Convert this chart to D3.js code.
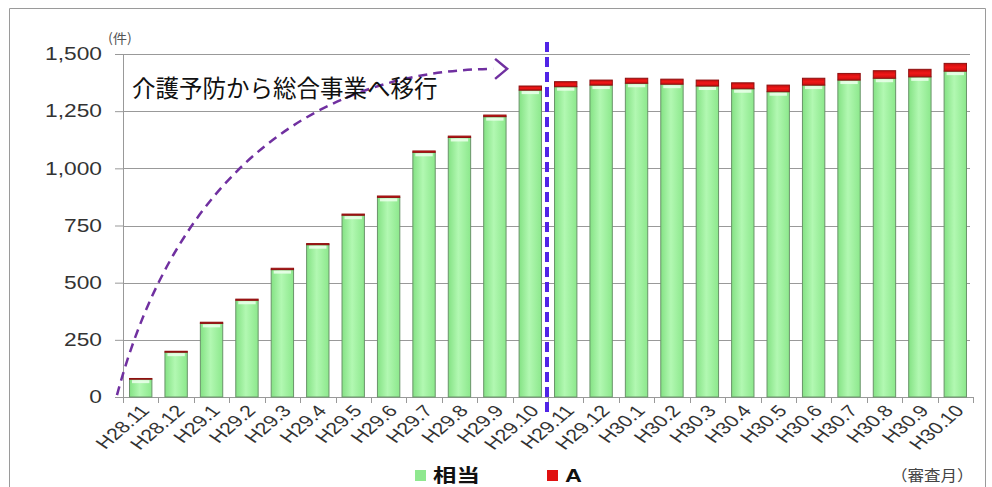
<!DOCTYPE html>
<html>
<head>
<meta charset="utf-8">
<script src="https://cdn.jsdelivr.net/npm/d3@7/dist/d3.min.js"></script>
<style>
body{margin:0;background:#fff;}
svg{display:block;}
text{font-family:"Liberation Sans",Arial,sans-serif;}
.jp{font-family:"Noto Sans CJK JP","Noto Sans",sans-serif;}
</style>
</head>
<body>
<div id="chart"></div>
<script>
// data
var months=["H28.11","H28.12","H29.1","H29.2","H29.3","H29.4","H29.5","H29.6","H29.7","H29.8","H29.9","H29.10",
	"H29.11","H29.12","H30.1","H30.2","H30.3","H30.4","H30.5","H30.6","H30.7","H30.8","H30.9","H30.10"];
var soutou=[78,196,322,423,557,666,795,873,1070,1135,1226,1342,1357,1364,1372,1368,1360,1348,1335,1364,1386,1394,1400,1425];
var seriesA=[3,4,5,5,6,5,5,6,6,6,7,18,22,22,22,22,26,26,29,30,29,33,33,34];
var yTicks=[0,250,500,750,1000,1250,1500];
var seriesNames=["相当","A"];

var width=992, height=487;
var sx=1.3; // the picture is stretched sideways, text follows it
var mLeft=123, mRight=973, mTop=54, mBottom=397;

var svg=d3.select("#chart").append("svg").attr("width",width).attr("height",height);

var defs=svg.append("defs");
var gGreen=defs.append("linearGradient").attr("id","gGreen").attr("x1","0").attr("x2","1").attr("y1","0").attr("y2","0");
gGreen.append("stop").attr("offset","0").attr("stop-color","#84e284");
gGreen.append("stop").attr("offset","0.45").attr("stop-color","#b2f8b2");
gGreen.append("stop").attr("offset","1").attr("stop-color","#8ce88c");
var gRed=defs.append("linearGradient").attr("id","gRed").attr("x1","0").attr("x2","0").attr("y1","0").attr("y2","1");
gRed.append("stop").attr("offset","0").attr("stop-color","#c40d0d");
gRed.append("stop").attr("offset","0.5").attr("stop-color","#f01818");
gRed.append("stop").attr("offset","1").attr("stop-color","#c81010");

// frame round the whole chart
svg.append("path").attr("d","M9.5,487 V8.5 H985.5 V487").attr("fill","none").attr("stroke","#9a9a9a").attr("stroke-width",1);

var x=d3.scaleBand().domain(months).range([mLeft,mRight]).paddingInner(0.34).paddingOuter(0.17);
var y=d3.scaleLinear().domain([0,1500]).range([mBottom,mTop]);
var xi=d3.scaleLinear().domain([0,months.length]).range([mLeft,mRight]); // fractional category positions

// gridlines + y axis
var yAxis=svg.append("g").attr("transform","translate("+mLeft+",0)")
	.call(d3.axisLeft(y).tickValues(yTicks).tickSize(8).tickFormat(function(){return "";}));
yAxis.select(".domain").remove();
yAxis.selectAll(".tick line").attr("stroke","#999");
svg.append("g").selectAll("line").data(yTicks).enter().append("line")
	.attr("x1",mLeft).attr("x2",970).attr("y1",function(d){return Math.round(y(d))+0.5;}).attr("y2",function(d){return Math.round(y(d))+0.5;})
	.attr("stroke","#999");
svg.append("line").attr("x1",mLeft+0.5).attr("x2",mLeft+0.5).attr("y1",mTop).attr("y2",mBottom).attr("stroke","#999");

svg.append("g").selectAll("text").data(yTicks).enter().append("text")
	.attr("transform",function(d){return "translate(102,"+y(d)+") scale("+sx+",1)";})
	.attr("text-anchor","end").attr("dy","0.36em")
	.attr("font-size",17.5).attr("fill","#333")
	.text(function(d){return d3.format(",")(d);});

svg.append("text").attr("class","jp").attr("transform","translate(108,43) scale(1.1,1)")
	.attr("font-size",13).attr("fill","#555").text("(件)");

// x axis ticks
var xAxis=svg.append("g").attr("transform","translate(0,"+mBottom+")");
xAxis.append("line").attr("x1",mLeft).attr("x2",mRight).attr("y1",0.5).attr("y2",0.5).attr("stroke","#999");
xAxis.selectAll(".xt").data(d3.range(months.length+1)).enter().append("line").attr("class","xt")
	.attr("x1",function(d){return Math.round(xi(d))+0.5;}).attr("x2",function(d){return Math.round(xi(d))+0.5;})
	.attr("y1",0).attr("y2",6).attr("stroke","#999");
xAxis.selectAll("text").data(months).enter().append("text")
	.attr("transform",function(d){return "translate("+(x(d)+x.bandwidth()/2+5)+",11) scale("+sx+",1) rotate(-48)";})
	.attr("text-anchor","end").attr("dy","0.3em")
	.attr("font-size",16.5).attr("fill","#333")
	.text(function(d){return d;});

// stacked bars
var rows=months.map(function(m,i){return {month:m,s:soutou[i],a:seriesA[i]};});
var stack=d3.stack().keys(["s","a"])(rows);
var fills={s:"url(#gGreen)",a:"url(#gRed)"};
var strokes={s:"#6a946a",a:"#8f1010"};
svg.append("g").selectAll("g").data(stack).enter().append("g")
	.each(function(layer){
		d3.select(this).selectAll("rect").data(layer).enter().append("rect")
			.attr("x",function(d){return x(d.data.month)+0.5;})
			.attr("y",function(d){return y(d[1]);})
			.attr("width",x.bandwidth()-1)
			.attr("height",function(d){return Math.max(0.5,y(d[0])-y(d[1]));})
			.attr("fill",fills[layer.key]).attr("stroke",strokes[layer.key]).attr("stroke-width",1);
	});
// light top highlight on green part
svg.append("g").selectAll("rect").data(rows).enter().append("rect")
	.attr("x",function(d){return x(d.month)+3;})
	.attr("y",function(d){return y(d.s)+1;})
	.attr("width",x.bandwidth()-6).attr("height",3)
	.attr("fill","#ecffec").attr("opacity",0.85);

// vertical dashed line between H29.10 and H29.11
var cut=xi(12)-1;
svg.append("line").attr("x1",cut).attr("x2",cut).attr("y1",42).attr("y2",416)
	.attr("stroke","#5024e6").attr("stroke-width",4).attr("stroke-dasharray","10,5");

// curved arrow (points in category index / value space)
var p0=[xi(-0.17),y(8)], p1=[xi(1.6),y(1035)], p2=[xi(5.8),y(1428)], p3=[xi(10.45),y(1435)];
var curve=d3.path();
curve.moveTo(p0[0],p0[1]);
curve.bezierCurveTo(p1[0],p1[1],p2[0],p2[1],p3[0],p3[1]);
svg.append("path").attr("d",curve.toString()).attr("fill","none")
	.attr("stroke","#7030a0").attr("stroke-width",2.5).attr("stroke-dasharray","9,6");
var tip=[p3[0]+14,p3[1]];
svg.append("path").attr("d","M"+(tip[0]-12)+","+(tip[1]-10)+" L"+tip[0]+","+tip[1]+" L"+(tip[0]-12)+","+(tip[1]+10))
	.attr("fill","none").attr("stroke","#7030a0").attr("stroke-width",2.5);

svg.append("text").attr("class","jp").attr("x",132).attr("y",97)
	.attr("font-size",23.5).attr("fill","#111").text("介護予防から総合事業へ移行");

// legend
var legend=svg.append("g");
var legendColors=["#8fe88f","#e01010"];
var legendX=[415,547];
seriesNames.forEach(function(n,i){
	legend.append("rect").attr("x",legendX[i]).attr("y",470).attr("width",11).attr("height",11)
		.attr("fill",legendColors[i]);
	legend.append("text").attr("class",i===0?"jp":"")
		.attr("transform","translate("+(legendX[i]+18)+",482) scale(1.3,1)")
		.attr("font-size",18).attr("font-weight","bold").attr("fill","#111").text(n);
});
svg.append("text").attr("class","jp").attr("transform","translate(891,481) scale(1.1,1)")
	.attr("font-size",15).attr("fill","#444").text("（審査月）");
</script>
</body>
</html>
